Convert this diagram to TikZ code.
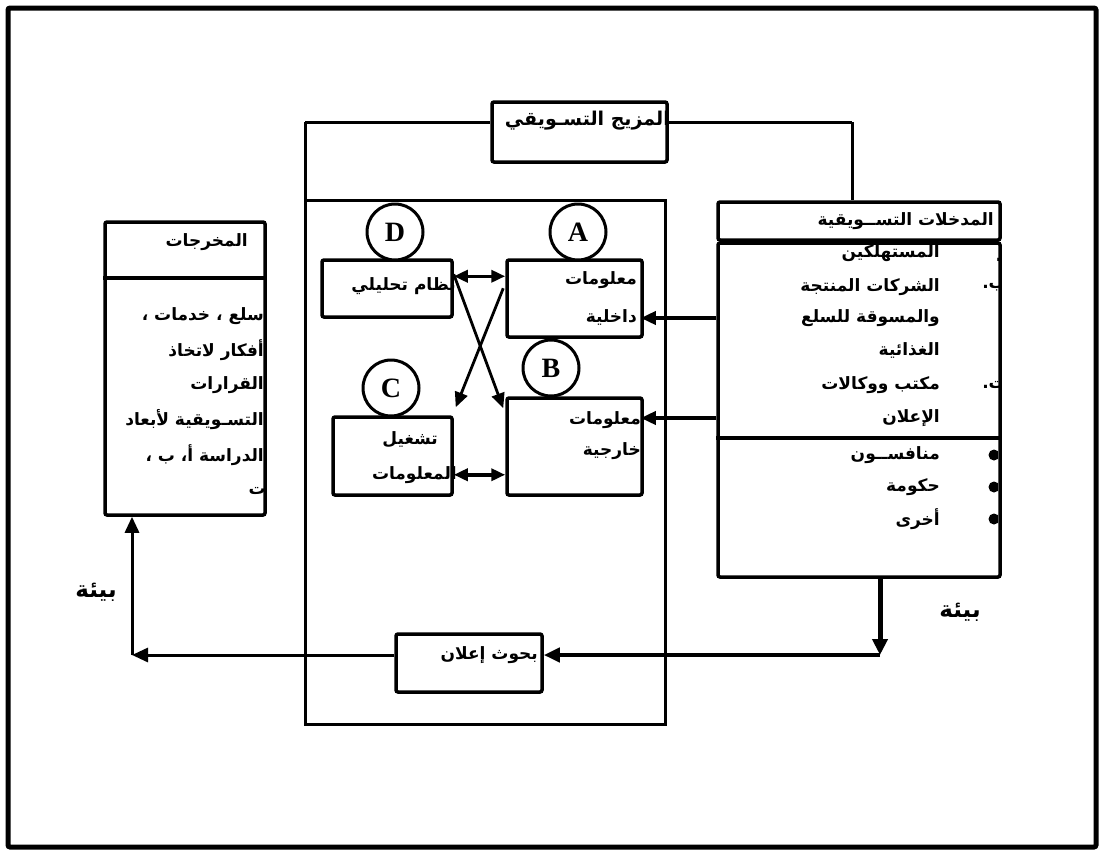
\documentclass[tikz,border=0pt]{standalone}
\usepackage{fontspec}
\usetikzlibrary{arrows.meta,calc}
\TeXXeTstate=1
\newfontfamily\arabicfont[Script=Arabic]{DejaVu Sans}
\newfontfamily\latinserif{Liberation Serif}
\newcommand{\AR}[1]{\beginR #1\endR}
\begin{document}
\begin{tikzpicture}[x=1pt,y=-1pt,
  box/.style={draw, line width=3.5pt, rounded corners=2pt, inner sep=0pt},
  txt/.style={inner sep=0pt, font=\arabicfont\bfseries\fontsize{17}{20}\selectfont},
  bigtxt/.style={inner sep=0pt, font=\arabicfont\bfseries\fontsize{19}{22}\selectfont},
  envtxt/.style={inner sep=0pt, font=\arabicfont\bfseries\fontsize{23}{26}\selectfont},
  circ/.style={draw, circle, line width=3pt, minimum size=56pt, inner sep=0pt, fill=white,
    font=\latinserif\bfseries\fontsize{28}{30}\selectfont},
  tip/.style={-{Triangle[length=15pt,width=13pt]}},
  arr/.style={line width=3.5pt, tip},
  darr/.style={line width=3.5pt, {Triangle[length=14pt,width=12pt]}-{Triangle[length=14pt,width=12pt]}},
  thin/.style={line width=2.8pt}
]
\useasboundingbox (0,0) rectangle (1104,855);
\draw[line width=5pt, rounded corners=2pt] (8,8) rectangle (1096,847);

% named corner points of the frame lines
\coordinate (tl) at (305,122);
\coordinate (bl) at (305,724);
\coordinate (br) at (665,724);
\coordinate (tr) at (665,200);
\coordinate (il) at (305,200);
\coordinate (tk) at (852,122);

% big panel
\draw[line width=3pt] (il) -- (tr) -- (br) -- (bl) -- (tl);

% marketing mix box
\node[box, minimum width=175pt, minimum height=60pt, fill=white] (mix) at (579.5,132) {};
\node[bigtxt, anchor=east] (mixt) at (670,121) {\AR{المزيج التسـويقي}};
\draw[line width=3pt] (tl) -- (mix.west |- tl);
\draw[line width=3pt] (mix.east |- tl) -- (tk);

% inputs box
\node[box, minimum width=282pt, minimum height=38pt] (intitle) at (859,221) {};
\node[box, minimum width=282pt, minimum height=334pt] (inbody) at (859,410) {};
\draw[line width=3pt] (tk) -- (tk |- intitle.north);
\coordinate (dv) at (0,438);
\draw[line width=3.5pt] (inbody.west |- dv) -- (inbody.east |- dv);
\node[txt, anchor=east] (intt) at (994,221) {\AR{المدخلات التســويقية}};
\begin{scope}
\clip (718,243) rectangle (998,577);
\node[txt, anchor=east] (i1) at (940,253) {\AR{المستهلكين}};
\node[txt, anchor=east] (i2) at (940,287) {\AR{الشركات المنتجة}};
\node[txt, anchor=east] (i3) at (940,318) {\AR{والمسوقة للسلع}};
\node[txt, anchor=east] (i4) at (940,350) {\AR{الغذائية}};
\node[txt, anchor=east] (i5) at (940,385) {\AR{مكتب ووكالات}};
\node[txt, anchor=east] (i6) at (940,418) {\AR{الإعلان}};
\node[txt, anchor=east] (m1) at (1008,253) {\AR{أ.}};
\node[txt, anchor=east] (m2) at (1006,287) {\AR{ب.}};
\node[txt, anchor=east] (m3) at (1006,385) {\AR{ت.}};
\node[txt, anchor=east] (j1) at (940,455) {\AR{منافســون}};
\node[txt, anchor=east] (j2) at (940,487) {\AR{حكومة}};
\node[txt, anchor=east] (j3) at (940,519) {\AR{أخرى}};
\fill (994,455) circle (5.5pt);
\fill (994,487) circle (5.5pt);
\fill (994,519) circle (5.5pt);
\end{scope}

% outputs box
\node[box, minimum width=160pt, minimum height=293pt] (outbox) at (185,368.5) {};
\coordinate (od) at (0,278);
\draw[line width=3.5pt] (outbox.west |- od) -- (outbox.east |- od);
\node[txt, anchor=east] (outt) at (248,242) {\AR{المخرجات}};
\begin{scope}
\clip (105,280) rectangle (263,515);
\node[txt, anchor=east] (o1) at (264,316) {\AR{سلع ، خدمات ،}};
\node[txt, anchor=east] (o2) at (264,350) {\AR{أفكار لاتخاذ}};
\node[txt, anchor=east] (o3) at (264,385) {\AR{القرارات}};
\node[txt, anchor=east] (o4) at (264,420) {\AR{التسـويقية لأبعاد}};
\node[txt, anchor=east] (o5) at (264,455) {\AR{الدراسة أ، ب ،}};
\node[txt, anchor=east] (o6) at (266,491) {\AR{ت}};
\end{scope}

% inner boxes
\node[box, minimum width=130pt, minimum height=57pt] (Dbox) at (387,288.5) {};
\node[box, minimum width=135pt, minimum height=77pt] (Abox) at (574.5,298.5) {};
\node[box, minimum width=119pt, minimum height=78pt] (Cbox) at (392.5,456) {};
\node[box, minimum width=135pt, minimum height=97pt] (Bbox) at (574.5,446.5) {};

\node[txt, anchor=east] (Dt) at (456,286) {\AR{نظام تحليلي}};
\node[txt, anchor=east] (At1) at (637,280) {\AR{معلومات}};
\node[txt, anchor=east] (At2) at (637,317) {\AR{داخلية}};
\node[txt, anchor=east] (Bt1) at (641,420) {\AR{معلومات}};
\node[txt, anchor=east] (Bt2) at (641,451) {\AR{خارجية}};
\node[txt, anchor=east] (Ct1) at (438,440) {\AR{تشغيل}};
\node[txt, anchor=east] (Ct2) at (457,475) {\AR{المعلومات}};

% circles
\node[circ] (cD) at (395,232) {D};
\node[circ] (cA) at (578,232) {A};
\node[circ] (cB) at (551,368) {B};
\node[circ] (cC) at (391,388) {C};

% connectors inside
\draw[darr] ($(Dbox.north east)+(0,18)$) coordinate (da) -- (Abox.west |- da);
\draw[darr] ($(Cbox.south east)+(0,-22)$) coordinate (cb) -- (Bbox.west |- cb);
\draw[thin, tip] ($(Dbox.north east)+(0,16)$) -- ($(Bbox.north west)+(-2,12)$);
\draw[thin, tip] ($(Abox.north west)+(-2,30)$) -- ($(Cbox.north east)+(2,-8)$);

% inputs to info boxes
\coordinate (ya) at (0,318);
\coordinate (yb) at (0,418);
\draw[arr] (inbody.west |- ya) -- ($(Abox.east |- ya)+(-3,0)$);
\draw[arr] (inbody.west |- yb) -- ($(Bbox.east |- yb)+(-3,0)$);

% ad research box and bottom loop
\node[box, minimum width=146pt, minimum height=58pt, fill=white] (adbox) at (469,663) {};
\node[txt, anchor=east] (adt) at (538,655) {\AR{بحوث إعلان}};
\coordinate (dn) at (880,655);
\coordinate (lc) at (132,655);
\draw[line width=5pt, -{Triangle[length=16pt,width=15pt]}] (inbody.south -| dn) -- (dn);
\draw[line width=4.5pt, -{Triangle[length=16pt,width=14pt]}] (dn) -- (adbox.east |- dn);
\draw[line width=3pt, -{Triangle[length=16pt,width=14pt]}] (adbox.west |- lc) -- (lc);
\draw[line width=3pt, -{Triangle[length=16pt,width=14pt]}] (lc) -- (outbox.south -| lc);
\draw[line width=3pt] (tl |- bl) -- (tl |- lc);

% environment labels
\node[envtxt] (envL) at (96,592) {\AR{بيئة}};
\node[envtxt] (envR) at (960,612) {\AR{بيئة}};
\end{tikzpicture}
\end{document}
